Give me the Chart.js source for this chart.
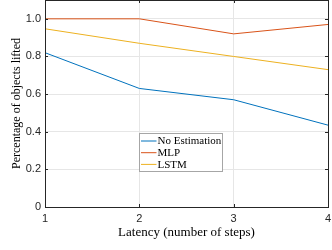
<!DOCTYPE html>
<html><head><meta charset="utf-8">
<script src="https://cdn.jsdelivr.net/npm/chart.js@4/dist/chart.umd.min.js"></script>
<style>html,body{margin:0;padding:0;background:#fff}#wrap{width:332px;height:250px}</style>
</head><body><div id="wrap"><canvas id="c" width="332" height="250"></canvas></div>
<script>
const latency = [1, 2, 3, 4];
const noEstimation = [0.82, 0.63, 0.57, 0.435];
const mlp = [1.0, 1.0, 0.92, 0.97];
const lstm = [0.947, 0.87, 0.80, 0.73];
const seriesNames = ['No Estimation', 'MLP', 'LSTM'];
const seriesColors = ['#0072BD', '#D95319', '#EDB120'];
const yTicks = [0, 0.2, 0.4, 0.6, 0.8, 1];
const xTicks = [1, 2, 3, 4];

const serif = "'Liberation Serif','DejaVu Serif',serif";
const sans = "'Liberation Sans',Arial,sans-serif";

function pts(arr){ return arr.map((v,i)=>({x: latency[i], y: v})); }

const insideTicks = {
  id: 'insideTicks',
  afterDatasetsDraw(chart){
    const {ctx, chartArea: a, scales} = chart;
    ctx.save();
    ctx.strokeStyle = '#262626';
    ctx.lineWidth = 1;
    const L = 3;
    ctx.beginPath();
    xTicks.forEach(t=>{
      const x = Math.round(scales.x.getPixelForValue(t)) + 0.5;
      ctx.moveTo(x, a.bottom); ctx.lineTo(x, a.bottom - L);
      ctx.moveTo(x, a.top); ctx.lineTo(x, a.top + L);
    });
    yTicks.forEach(t=>{
      const y = Math.round(scales.y.getPixelForValue(t)) + 0.5;
      ctx.moveTo(a.left, y); ctx.lineTo(a.left + L, y);
      ctx.moveTo(a.right, y); ctx.lineTo(a.right - L, y);
    });
    ctx.stroke();
    ctx.strokeRect(Math.round(a.left)+0.5, Math.round(a.top)+0.5, Math.round(a.right-a.left), Math.round(a.bottom-a.top));
    ctx.restore();
  }
};

const boxLegend = {
  id: 'boxLegend',
  afterDatasetsDraw(chart){
    const ctx = chart.ctx;
    const ds = chart.data.datasets;
    const left = 139.5, top = 133.5, w = 83, h = 38;
    ctx.save();
    ctx.fillStyle = '#fff';
    ctx.fillRect(left, top, w, h);
    ctx.strokeStyle = '#a6a6a6';
    ctx.lineWidth = 1;
    ctx.strokeRect(left, top, w, h);
    ctx.font = '11px ' + serif;
    ctx.textBaseline = 'middle';
    ctx.fillStyle = '#000';
    ds.forEach((d,i)=>{
      const y = top + 7.5 + i * 11.7;
      ctx.strokeStyle = d.borderColor;
      ctx.beginPath();
      ctx.moveTo(left + 1.5, y); ctx.lineTo(left + 17, y);
      ctx.stroke();
      ctx.fillText(d.label, left + 18, y + 0.5);
    });
    ctx.restore();
  }
};

new Chart(document.getElementById('c'), {
  type: 'line',
  data: {
    datasets: [
      {label: seriesNames[0], data: pts(noEstimation), borderColor: seriesColors[0]},
      {label: seriesNames[1], data: pts(mlp), borderColor: seriesColors[1]},
      {label: seriesNames[2], data: pts(lstm), borderColor: seriesColors[2]}
    ].map(d=>Object.assign(d,{borderWidth:1, pointRadius:0, fill:false, tension:0}))
  },
  options: {
    responsive: false,
    animation: false,
    layout: {padding: {top: 0, right: 4, left: 0, bottom: 0}},
    plugins: {legend: {display: false}, tooltip: {enabled: false}},
    scales: {
      x: {
        type: 'linear', min: 1, max: 4,
        afterBuildTicks(s){ s.ticks = xTicks.map(v=>({value:v})); },
        afterFit(s){ s.height = 43; s.paddingLeft = 0; s.paddingRight = 0; },
        grid: {color: '#e6e6e6', drawTicks: false},
        border: {display: false},
        ticks: {font: {family: sans, size: 11}, color: '#262626', padding: 5, maxRotation: 0},
        title: {display: true, text: 'Latency (number of steps)', font: {family: serif, size: 13}, color: '#000', padding: {top: 0, bottom: 10}}
      },
      y: {
        min: 0, max: 1.1,
        afterBuildTicks(s){ s.ticks = yTicks.map(v=>({value:v})); },
        afterFit(s){ s.width = 45; s.paddingTop = 0; s.paddingBottom = 0; },
        grid: {color: '#e6e6e6', drawTicks: false},
        border: {display: false},
        ticks: {font: {family: sans, size: 11}, color: '#262626', padding: 4},
        title: {display: true, text: 'Percentage of objects lifted', font: {family: serif, size: 12}, color: '#000', padding: {top: 10, bottom: 0}}
      }
    }
  },
  plugins: [insideTicks, boxLegend]
});
</script>
</body></html>
